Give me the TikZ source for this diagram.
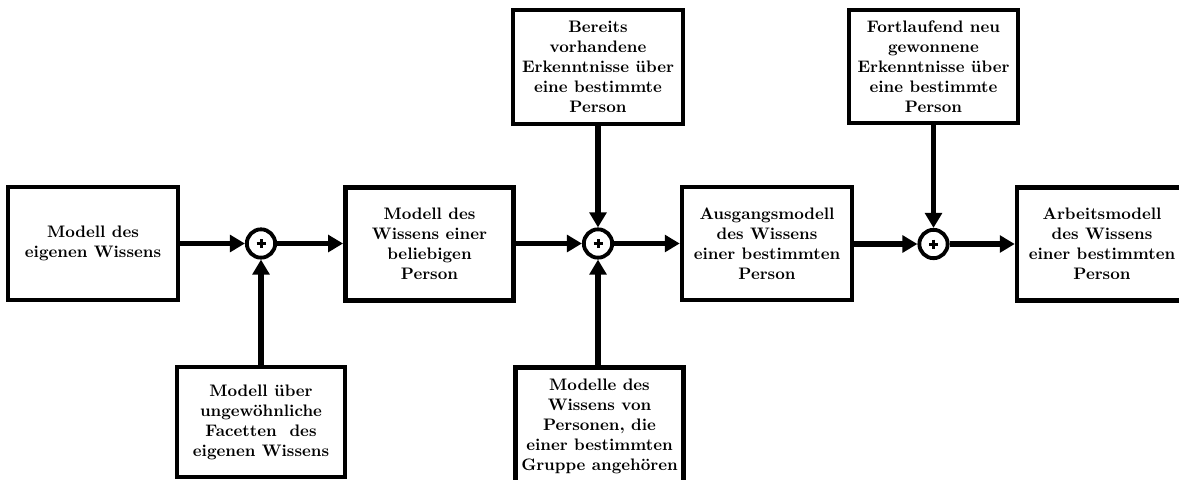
\documentclass[tikz,border=0pt]{standalone}
\usetikzlibrary{arrows.meta}
\begin{document}
\begin{tikzpicture}[x=0.6pt,y=-0.6pt,
  box/.style={draw,line width=2.7pt,rectangle,align=center,font=\bfseries,inner sep=0pt},
  sum/.style={draw,circle,line width=2.3pt,minimum size=17pt,inner sep=0pt},
  arr/.style={line width=3.2pt,-{Triangle[length=9pt,width=10pt]}},
  plusbar/.style={line width=1.8pt}]
\useasboundingbox (0,0) rectangle (1179,479);
% boxes
\node[box,minimum width=102pt,minimum height=68pt] (b1) at (93,243.5) {Modell des\\eigenen Wissens};
\node[box,minimum width=101pt,minimum height=68pt] (b2) at (429.5,244) {Modell des\\Wissens einer\\beliebigen\\Person};
\node[box,minimum width=102pt,minimum height=68pt] (b3) at (767,243.5) {Ausgangsmodell\\des Wissens\\einer bestimmten\\Person};
\node[box,minimum width=102pt,minimum height=68pt] (b4) at (1102,244) {Arbeitsmodell\\des Wissens\\einer bestimmten\\Person};
\node[box,minimum width=102pt,minimum height=68.5pt] (t1) at (598,67) {Bereits\\vorhandene\\Erkenntnisse über\\eine bestimmte\\Person};
\node[box,minimum width=101.5pt,minimum height=68pt] (t2) at (933.5,66.5) {Fortlaufend neu\\gewonnene\\Erkenntnisse über\\eine bestimmte\\Person};
\node[box,minimum width=101pt,minimum height=66pt] (u1) at (261,422) {Modell über\\ungewöhnliche\\Facetten\ \ des\\eigenen Wissens};
\node[box,minimum width=101pt,minimum height=71pt] (u2) at (599.5,426.5) {Modelle des\\Wissens von\\Personen, die\\einer bestimmten\\Gruppe angehören};
% summation points
\node[sum] (c1) at (261,243.5) {};
\node[sum] (c2) at (598,243.5) {};
\node[sum] (c3) at (933.5,244) {};
\foreach \c in {c1,c2,c3}{
  \draw[plusbar] (\c.center) ++(-4.5,0) -- ++(9,0);
  \draw[plusbar] (\c.center) ++(0,-4.5) -- ++(0,9);
}
% connectors
\draw[arr] (b1.east |- c1) -- (c1.west);
\draw[arr] (c1.east) -- (c1.east -| b2.west);
\draw[arr] (u1.north) -- (c1.south);
\draw[arr] (b2.east |- c2) -- (c2.west);
\draw[arr] (c2.east) -- (c2.east -| b3.west);
\draw[arr] (t1.south) -- (c2.north);
\draw[arr] (u2.north -| c2) -- (c2.south);
\draw[arr] (b3.east |- c3) -- (c3.west);
\draw[arr] (c3.east) -- (c3.east -| b4.west);
\draw[arr] (t2.south) -- (c3.north);
\end{tikzpicture}
\end{document}
